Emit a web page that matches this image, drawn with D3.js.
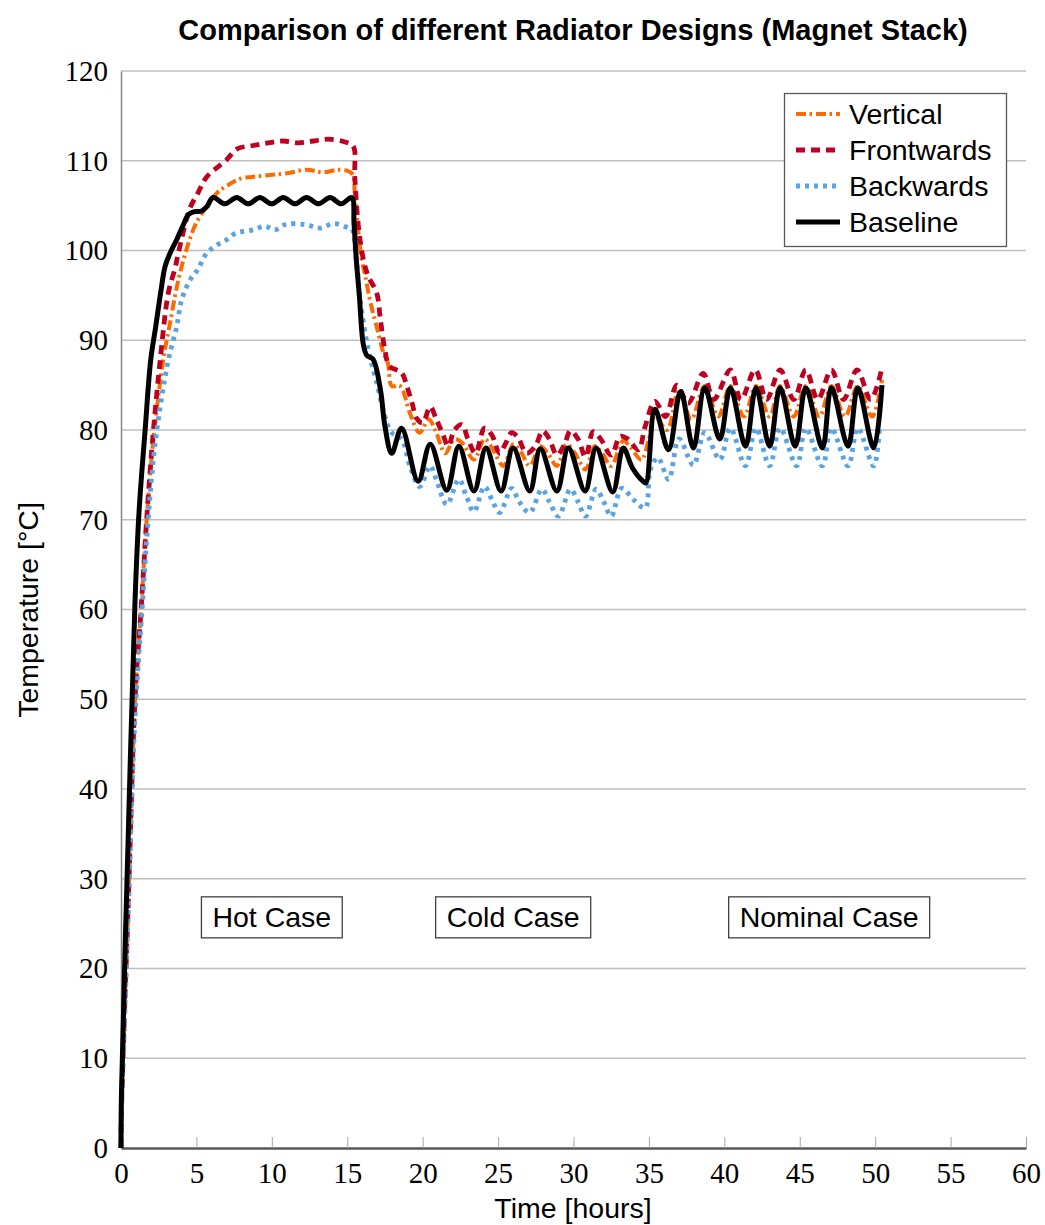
<!DOCTYPE html>
<html>
<head>
<meta charset="utf-8">
<script src="https://cdn.jsdelivr.net/npm/d3@7"></script>
<style>
  html, body { margin: 0; padding: 0; background: #fff; }
  svg { display: block; }
  .sans { font-family: "Liberation Sans", Arial, sans-serif; }
  .serif { font-family: "Liberation Serif", "Times New Roman", serif; }
</style>
</head>
<body>
<svg id="chart" width="1045" height="1225"></svg>
<script>
// ---- data: time [hours] and temperature [°C] for each radiator design ----
const baselineTime = [0, 0.03, 0.5, 0.93, 1.2, 1.6, 1.97, 2.3, 2.63, 2.92, 3.25, 3.69, 4.09, 4.47, 4.8, 5.35, 5.7, 6.1, 6.9, 7.67, 8.44, 9.2, 9.99, 10.76, 11.54, 12.3, 13.1, 13.86, 14.6, 15.3, 15.45, 15.6, 15.8, 16.07, 16.3, 16.7, 17.2, 17.5, 17.95, 18.6, 19.7, 20.5, 21.6, 22.4, 23.4, 24.2, 25.2, 26.0, 27.1, 27.8, 28.9, 29.66, 30.77, 31.5, 32.6, 33.3, 33.9, 34.6, 34.8, 35.4, 36.3, 37.1, 37.95, 38.7, 39.7, 40.4, 41.4, 42.1, 43.0, 43.7, 44.7, 45.4, 46.5, 47.1, 48.2, 48.85, 49.9, 50.45];
const baselineTemp = [0, 6, 36, 61, 71, 80, 87.8, 91.5, 95.3, 98.2, 99.7, 101.2, 102.7, 104.0, 104.3, 104.4, 104.9, 105.9, 105.2, 105.9, 105.2, 105.9, 105.2, 105.9, 105.2, 105.9, 105.2, 105.9, 105.2, 105.9, 103.0, 99.0, 95.0, 89.5, 88.3, 87.9, 84.5, 80.4, 77.4, 80.2, 74.3, 78.4, 73.3, 78.2, 73.2, 78.0, 73.2, 78.0, 73.2, 77.9, 73.2, 78.0, 73.2, 78.0, 73.1, 78.0, 75.8, 74.3, 74.1, 82.3, 77.8, 84.3, 78.0, 84.7, 79.0, 84.7, 78.2, 84.7, 78.2, 84.7, 78.2, 84.7, 78.0, 84.7, 78.2, 84.7, 78.0, 85.0];

const verticalTime = [0, 0.03, 0.15, 0.5, 0.93, 1.37, 1.7, 2.15, 2.8, 3.25, 3.8, 4.47, 5.0, 5.68, 6.35, 7.1, 7.9, 8.67, 9.87, 11.0, 12.3, 13.4, 14.5, 15.3, 15.5, 15.74, 15.96, 16.2, 16.5, 16.95, 17.4, 17.7, 17.95, 18.5, 19.15, 19.8, 20.4, 20.9, 21.5, 22.1, 22.6, 23.4, 24.1, 24.6, 25.35, 26.0, 26.5, 27.1, 27.8, 28.3, 28.9, 29.55, 30.1, 30.8, 31.4, 31.9, 32.5, 33.3, 33.8, 34.5, 35.0, 35.4, 36.2, 37.0, 37.8, 38.7, 39.6, 40.4, 41.3, 42.1, 43.0, 43.7, 44.6, 45.4, 46.3, 47.1, 48.0, 48.85, 49.8, 50.45];
const verticalTemp = [0, 4, 11, 28, 50, 61, 70, 79, 87.8, 91.9, 96.7, 100.8, 103.1, 104.9, 106.4, 107.3, 108.0, 108.2, 108.4, 108.6, 109.0, 108.7, 109.0, 108.6, 106.4, 102.0, 99.0, 97.1, 94.5, 91.5, 88.6, 87.4, 84.9, 84.9, 81.9, 79.7, 81.2, 79.7, 77.4, 79.0, 78.6, 76.7, 79.0, 78.0, 76.0, 78.4, 77.6, 76.0, 78.2, 77.4, 76.0, 78.4, 77.4, 75.6, 78.2, 77.4, 76.0, 78.8, 78.0, 76.7, 79.0, 81.5, 80.0, 84.5, 81.2, 84.9, 81.5, 84.9, 81.5, 84.9, 81.5, 84.9, 81.5, 84.9, 81.5, 84.9, 81.5, 84.9, 81.5, 85.6];

const frontwardsTime = [0, 0.03, 0.15, 0.49, 0.93, 1.37, 1.7, 2.1, 2.6, 3.14, 3.58, 3.8, 4.57, 5.1, 5.68, 7.0, 7.67, 8.77, 9.77, 10.76, 11.76, 12.75, 13.75, 14.85, 15.4, 15.5, 15.74, 16.07, 16.4, 16.95, 17.2, 17.5, 17.8, 18.6, 18.95, 19.3, 19.6, 20.0, 20.5, 20.9, 21.3, 21.7, 22.1, 22.6, 23.0, 23.5, 24.1, 24.6, 25.1, 25.5, 25.9, 26.3, 26.9, 27.5, 27.95, 28.4, 28.9, 29.4, 29.8, 30.3, 30.8, 31.3, 31.8, 32.5, 33.1, 33.6, 34.3, 34.75, 35.4, 36.1, 36.85, 37.6, 38.6, 39.3, 40.4, 41.1, 42.05, 42.8, 43.7, 44.6, 45.4, 46.2, 47.1, 47.9, 48.8, 49.7, 50.45];
const frontwardsTemp = [0, 4, 11, 27.7, 50, 61, 70, 79, 87.8, 95.3, 98.0, 99.7, 104.7, 106.4, 108.2, 110.1, 111.3, 111.7, 112.0, 112.2, 112.0, 112.2, 112.4, 112.1, 111.6, 108.2, 102.7, 99.0, 97.1, 95.3, 92.3, 88.9, 87.1, 86.4, 84.9, 83.0, 81.3, 80.8, 82.6, 81.2, 79.7, 78.2, 80.0, 80.6, 79.0, 77.4, 80.2, 79.4, 77.4, 78.5, 79.7, 79.2, 77.4, 78.3, 79.9, 79.0, 77.2, 78.4, 79.9, 79.0, 77.0, 79.8, 79.0, 77.2, 79.3, 79.0, 77.8, 80.4, 83.2, 81.5, 85.0, 83.0, 86.3, 83.4, 86.7, 83.4, 86.7, 83.4, 86.7, 83.4, 86.7, 83.4, 86.7, 83.4, 86.7, 83.4, 86.9];

const backwardsTime = [0, 0.03, 0.15, 0.5, 0.93, 1.4, 1.8, 2.3, 3.14, 3.69, 4.02, 4.57, 5.1, 5.68, 6.35, 7.0, 7.56, 8.77, 9.55, 10.2, 10.9, 12.2, 13.2, 14.1, 15.1, 15.3, 15.6, 15.9, 16.4, 17.0, 17.5, 17.95, 18.6, 19.15, 19.8, 20.5, 20.9, 21.6, 22.4, 22.9, 23.4, 24.1, 24.6, 25.1, 25.9, 26.4, 27.1, 27.9, 28.4, 29.0, 29.8, 30.3, 30.8, 31.5, 32.0, 32.5, 33.2, 34.0, 34.75, 35.1, 35.6, 36.3, 37.0, 37.95, 38.7, 39.7, 40.4, 41.4, 42.1, 43.0, 43.7, 44.8, 45.4, 46.5, 47.1, 48.2, 48.85, 49.9, 50.3];
const backwardsTemp = [0, 4, 10, 27, 48, 60, 70, 79, 87.8, 91.5, 94.5, 96.7, 97.9, 99.7, 100.6, 101.2, 101.9, 102.3, 102.7, 102.3, 102.9, 102.9, 102.5, 103.0, 102.5, 102.4, 99.0, 94.0, 88.9, 85.0, 81.5, 79.7, 79.0, 76.0, 73.7, 76.0, 74.5, 71.7, 74.5, 72.6, 70.9, 73.7, 72.2, 70.8, 73.5, 72.0, 70.8, 73.4, 72.0, 70.4, 73.4, 72.0, 70.4, 73.4, 72.0, 70.4, 73.5, 72.2, 71.3, 75.6, 76.9, 74.5, 79.0, 76.1, 79.7, 76.7, 80.2, 76.0, 80.2, 76.0, 80.2, 76.0, 80.2, 76.0, 80.2, 76.0, 80.2, 76.0, 80.6];

const xTicks = [0, 5, 10, 15, 20, 25, 30, 35, 40, 45, 50, 55, 60];
const yTicks = [0, 10, 20, 30, 40, 50, 60, 70, 80, 90, 100, 110, 120];

const caseLabels = ["Hot Case", "Cold Case", "Nominal Case"];
const caseTime = [10.0, 26.0, 46.95];
const caseTemp = [25.7, 25.7, 25.7];

// ---- series styling ----
const series = [
  { name: "Vertical",   time: verticalTime,   temp: verticalTemp,   color: "#FF6A00", width: 4,   dash: "10,3.5,2.5,4" },
  { name: "Frontwards", time: frontwardsTime, temp: frontwardsTemp, color: "#C00020", width: 4.8, dash: "9,6" },
  { name: "Backwards",  time: backwardsTime,  temp: backwardsTemp,  color: "#5BA3E2", width: 4.8, dash: "4,5" },
  { name: "Baseline",   time: baselineTime,   temp: baselineTemp,   color: "#000000", width: 5,   dash: null }
];

const svg = d3.select("#chart");
const plotLeft = 121, plotRight = 1026, plotTop = 71, plotBottom = 1148;

const x = d3.scaleLinear().domain([0, 60]).range([plotLeft, plotRight]);
const y = d3.scaleLinear().domain([0, 120]).range([plotBottom, plotTop]);

// horizontal grid lines
svg.append("g")
  .selectAll("line")
  .data(yTicks.filter(d => d > 0))
  .join("line")
  .attr("x1", plotLeft).attr("x2", plotRight)
  .attr("y1", d => y(d)).attr("y2", d => y(d))
  .attr("stroke", "#BFBFBF").attr("stroke-width", 1.3);

// y axis
const yAxis = svg.append("g")
  .attr("transform", `translate(${plotLeft},0)`)
  .call(d3.axisLeft(y).tickValues(yTicks).tickSize(0).tickPadding(13));
yAxis.select(".domain").attr("stroke", "#868686").attr("stroke-width", 1.5);
yAxis.selectAll("text")
  .attr("class", "serif")
  .style("font-size", "29px")
  .attr("fill", "#000");

// x axis with inward tick marks
const xAxis = svg.append("g")
  .attr("transform", `translate(0,${plotBottom})`)
  .call(d3.axisBottom(x).tickValues(xTicks).tickSizeInner(-11).tickSizeOuter(0).tickPadding(14));
xAxis.select(".domain").attr("stroke", "#595959").attr("stroke-width", 2.5);
xAxis.selectAll(".tick line").attr("stroke", "#A6A6A6").attr("stroke-width", 1);
xAxis.selectAll("text")
  .attr("class", "serif")
  .style("font-size", "29px")
  .attr("fill", "#000");

// series lines
const line = d3.line()
  .x(d => x(d[0]))
  .y(d => y(d[1]))
  .curve(d3.curveCatmullRom.alpha(0.5));

const plot = svg.append("g");
series.forEach(s => {
  const pts = s.time.map((t, i) => [t, s.temp[i]]);
  plot.append("path")
    .datum(pts)
    .attr("d", line)
    .attr("fill", "none")
    .attr("stroke", s.color)
    .attr("stroke-width", s.width)
    .attr("stroke-linejoin", "round")
    .attr("stroke-dasharray", s.dash);
});

// case annotations
caseLabels.forEach((label, i) => {
  const g = svg.append("g");
  const t = g.append("text")
    .attr("class", "sans")
    .attr("x", x(caseTime[i]))
    .attr("y", y(caseTemp[i]))
    .attr("text-anchor", "middle")
    .attr("dominant-baseline", "central")
    .style("font-size", "28.5px")
    .text(label);
  const bb = t.node().getBBox();
  g.insert("rect", "text")
    .attr("x", bb.x - 11).attr("y", y(caseTemp[i]) - 20.5)
    .attr("width", bb.width + 22).attr("height", 41)
    .attr("fill", "#fff").attr("stroke", "#404040").attr("stroke-width", 1.3);
});

// legend
const legend = svg.append("g");
legend.append("rect")
  .attr("x", 784.5).attr("y", 93.5).attr("width", 222).attr("height", 153)
  .attr("fill", "#fff").attr("stroke", "#595959").attr("stroke-width", 1.3);
series.forEach((s, i) => {
  const ly = 114 + i * 36;
  legend.append("line")
    .attr("x1", 796).attr("x2", 840).attr("y1", ly).attr("y2", ly)
    .attr("stroke", s.color).attr("stroke-width", s.width)
    .attr("stroke-dasharray", s.dash);
  legend.append("text")
    .attr("class", "sans")
    .attr("x", 849).attr("y", ly)
    .attr("dominant-baseline", "central")
    .style("font-size", "28.5px")
    .text(s.name);
});

// title
svg.append("text")
  .attr("class", "sans")
  .attr("x", 573).attr("y", 40)
  .attr("text-anchor", "middle")
  .style("font-size", "29px")
  .style("font-weight", "bold")
  .text("Comparison of different Radiator Designs (Magnet Stack)");

// axis titles
svg.append("text")
  .attr("class", "sans")
  .attr("x", 573).attr("y", 1218)
  .attr("text-anchor", "middle")
  .style("font-size", "28.5px")
  .text("Time [hours]");

svg.append("text")
  .attr("class", "sans")
  .attr("transform", "translate(38,610) rotate(-90)")
  .attr("text-anchor", "middle")
  .style("font-size", "28.5px")
  .text("Temperature [°C]");
</script>
</body>
</html>
